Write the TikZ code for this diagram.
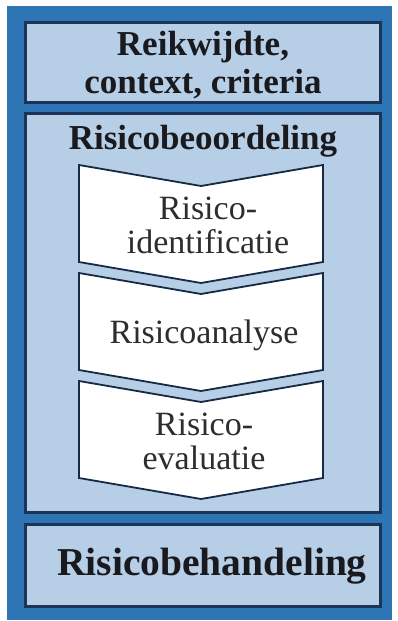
\documentclass[tikz,border=0pt]{standalone}
\usepackage{fontspec}
\setmainfont{Liberation Serif}
\definecolor{outerblue}{RGB}{46,117,182}
\definecolor{lightblue}{RGB}{182,206,230}
\definecolor{navy}{RGB}{28,52,88}
\definecolor{txtdark}{RGB}{25,25,30}
\definecolor{txtgray}{RGB}{45,45,45}
\tikzset{
  panel/.style={draw=navy, line width=3pt, fill=lightblue},
  chev/.style={draw=navy!80!black, line width=1.8pt, fill=white, line join=miter},
  headtxt/.style={text=txtdark, font=\bfseries\fontsize{35}{38}\selectfont, align=center, inner sep=0pt},
  chevtxt/.style={text=txtgray, font=\fontsize{34}{34}\selectfont, align=center, inner sep=0pt},
}
\begin{document}
\begin{tikzpicture}[x=1pt,y=-1pt]
\useasboundingbox (0,0) rectangle (397,621);
\fill[white] (0,0) rectangle (397,621);
\fill[outerblue] (7,6) rectangle (392,620);
% panels
\draw[panel] (25,22) rectangle (380,102);
\draw[panel] (25,113) rectangle (380,512);
\draw[panel] (25,524) rectangle (380,606);
% chevrons
\foreach \t/\n in {165/c1,273/c2,381/c3}{
  \draw[chev] (79,\t) -- (201,\t+21) -- (323,\t) -- (323,\t+97) -- (201,\t+118) -- (79,\t+97) -- cycle;
}
\node[headtxt, anchor=base] (scope) at (203,93) {Reikwijdte,\\context, criteria};
\node[headtxt, anchor=base] (assess) at (203,149) {Risicobeoordeling};
\node[chevtxt, anchor=base] (ident) at (208,253) {Risico-\\identificatie};
\node[chevtxt, anchor=base] (anal) at (204,343) {Risicoanalyse};
\node[chevtxt, anchor=base] (eval) at (204,469) {Risico-\\evaluatie};
\node[headtxt, anchor=base, font=\bfseries\fontsize{39.5}{42}\selectfont] (treat) at (212,575) {Risicobehandeling};
\end{tikzpicture}
\end{document}
